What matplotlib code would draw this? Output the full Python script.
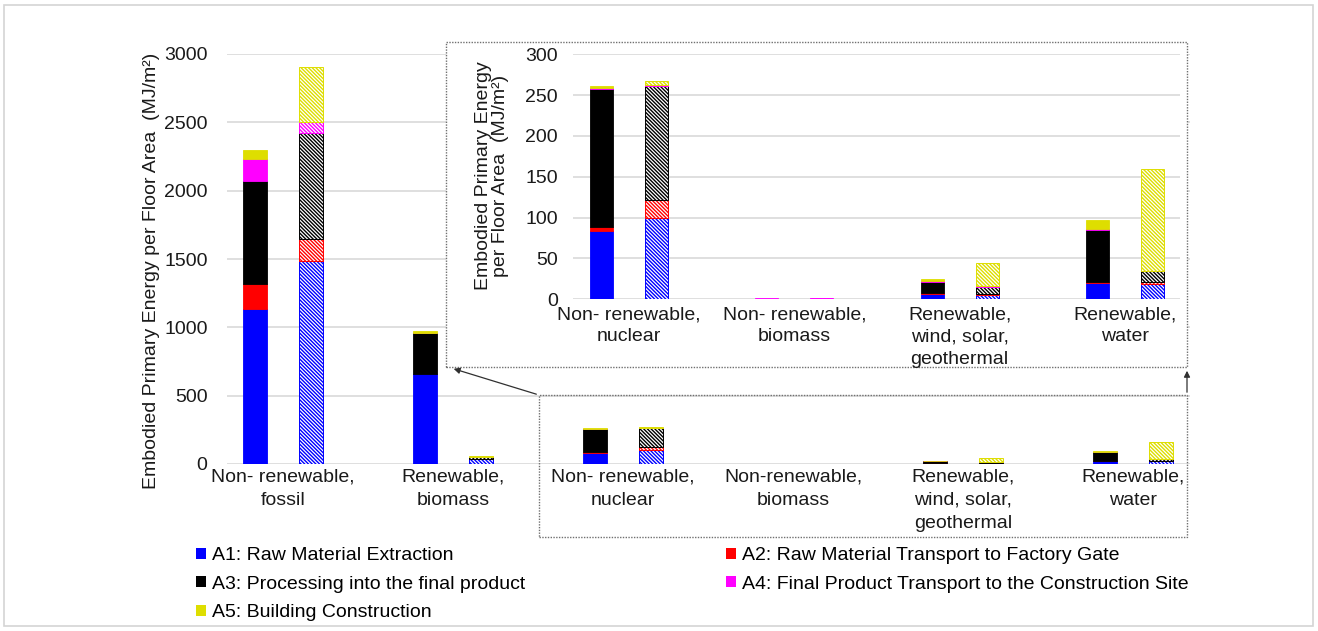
'''
Energia primaria incorporada por area de piso, por fuente de energia y etapa (A1-A5),
con un recuadro ampliado para las fuentes pequenas.
'''
# ---Imports---
import numpy as np
import matplotlib
matplotlib.use('Agg')
import matplotlib.pyplot as plt
from matplotlib.patches import Patch, Rectangle, FancyArrowPatch

# ---Datos---
categorias = ['Non- renewable,\nfossil', 'Renewable,\nbiomass', 'Non- renewable,\nnuclear',
              'Non-renewable,\nbiomass', 'Renewable,\nwind, solar,\ngeothermal', 'Renewable,\nwater']
categorias_zoom = ['Non- renewable,\nnuclear', 'Non- renewable,\nbiomass',
                   'Renewable,\nwind, solar,\ngeothermal', 'Renewable,\nwater']

etapas = ['A1: Raw Material Extraction', 'A2: Raw Material Transport to Factory Gate',
          'A3: Processing into the final product', 'A4: Final Product Transport to the Construction Site',
          'A5: Building Construction']
colores = ['#0000ff', '#ff0000', '#000000', '#ff00ff', '#dede00']

# barra solida (una fila por etapa, una columna por categoria)
solida = [
    [1135, 660, 84, 0.2, 7, 20],     # A1
    [185, 0, 5, 0, 0.5, 1],          # A2
    [750, 298, 168, 0.2, 14, 64],    # A3
    [160, 2, 2, 1.5, 0.5, 0.5],      # A4
    [70, 10, 2, 0, 3, 11],           # A5
]
# barra rayada
rayada = [
    [1484, 38, 99, 0.2, 5, 19],      # A1
    [165, 2, 22, 0, 1.5, 2.5],       # A2
    [770, 8, 140, 0.2, 9, 13],       # A3
    [80, 2, 1.5, 1.5, 0.5, 0.5],     # A4
    [405, 8, 5, 0, 29, 125],         # A5
]

# ---Estilo---
plt.rcParams['font.family'] = ['Liberation Sans', 'DejaVu Sans']
plt.rcParams['font.size'] = 14
plt.rcParams['hatch.linewidth'] = 1.0

W, H = 1318, 631

def px(x0, y0, x1, y1):
    '''Convierte una caja en pixeles (origen arriba-izquierda) a fraccion de figura.'''
    return [x0/W, (H-y1)/H, (x1-x0)/W, (y1-y0)/H]

def barras(ax, x, sol, ray, off, ancho):
    '''Dibuja las barras apiladas solida y rayada para cada categoria.'''
    base_s = np.zeros(len(x))
    base_r = np.zeros(len(x))
    for i in range(len(etapas)):
        vs = np.array(sol[i], dtype=float)
        vr = np.array(ray[i], dtype=float)
        # se omiten los tramos nulos para que no tapen a los demas
        ms = vs > 0
        mr = vr > 0
        ax.bar(x[ms] - off, vs[ms], ancho, bottom=base_s[ms], color=colores[i],
               edgecolor=colores[i], linewidth=0.6, zorder=3)
        ax.bar(x[mr] + off, vr[mr], ancho, bottom=base_r[mr], facecolor='white',
               edgecolor=colores[i], hatch='\\' * 9, linewidth=0.7, zorder=3)
        base_s += vs
        base_r += vr

def estilo(ax):
    for s in ax.spines.values():
        s.set_visible(False)
    ax.yaxis.grid(True, color='#d9d9d9', linewidth=1.2, zorder=0)
    ax.set_axisbelow(True)
    ax.tick_params(length=0, colors='#1a1a1a')

fig = plt.figure(figsize=(W/100, H/100), dpi=100)

# Marco exterior
fig.add_artist(Rectangle((4/W, 5/H), 1309/W, 621/H, transform=fig.transFigure,
                         fill=False, edgecolor='#d4d4d4', linewidth=1.2, zorder=0))

# ---Grafico principal---
ax = fig.add_axes(px(227, 54, 1190, 464))
x = np.arange(len(categorias))
barras(ax, x, solida, rayada, 0.167, 0.141)
estilo(ax)
ax.set_xlim(-0.329, 5.335)
ax.set_ylim(0, 3000)
ax.set_yticks(np.arange(0, 3001, 500))
ax.set_xticks(x)
ax.set_xticklabels(categorias, linespacing=1.5)
ax.tick_params(axis='y', pad=14)
ax.tick_params(axis='x', pad=3)
fig.text(152/W, 1-271/H, 'Embodied Primary Energy per Floor Area  (MJ/m²)',
         rotation=90, ha='center', va='center', color='#1a1a1a')

# ---Recuadro ampliado---
fig.add_artist(Rectangle((446/W, 1-367/H), 741/W, 325/H, transform=fig.transFigure,
                         facecolor='white', edgecolor='#707070', linewidth=1.0,
                         linestyle=(0, (1, 1)), zorder=1))
ax2 = fig.add_axes(px(573, 54.3, 1180, 299.3))
ax2.set_zorder(2)
ax2.patch.set_alpha(0)
x2 = np.arange(len(categorias_zoom))
barras(ax2, x2, [f[2:] for f in solida], [f[2:] for f in rayada], 0.166, 0.139)
estilo(ax2)
ax2.set_xlim(-0.339, 3.333)
ax2.set_ylim(0, 300)
ax2.set_yticks(np.arange(0, 301, 50))
ax2.set_xticks(x2)
ax2.set_xticklabels(categorias_zoom, linespacing=1.4)
ax2.tick_params(axis='y', pad=11)
ax2.tick_params(axis='x', pad=5)
fig.text(492/W, 1-176/H, 'Embodied Primary Energy\nper Floor Area  (MJ/m²)',
         rotation=90, ha='center', va='center', linespacing=1.0, zorder=3, color='#1a1a1a')

# Recuadro inferior y flechas
fig.add_artist(Rectangle((539/W, 1-537/H), 648/W, 142/H, transform=fig.transFigure,
                         fill=False, edgecolor='#707070', linewidth=1.0,
                         linestyle=(0, (1, 1)), zorder=3))
for a, b in [((539, 395), (451, 368)), ((1187, 395), (1187, 368))]:
    fig.add_artist(FancyArrowPatch((a[0]/W, 1-a[1]/H), (b[0]/W, 1-b[1]/H),
                                   transform=fig.transFigure, arrowstyle='-|>',
                                   mutation_scale=9, linewidth=0.9, color='#303030', zorder=3))

# ---Leyenda---
h = [Patch(facecolor=c, edgecolor='none') for c in colores]
kw = dict(frameon=False, handlelength=0.5, handleheight=0.5, handletextpad=0.3,
          labelspacing=0.6, borderpad=0, borderaxespad=0, loc='upper left')
fig.legend([h[0], h[2], h[4]], [etapas[0], etapas[2], etapas[4]],
           bbox_to_anchor=(196/W, 1-547/H), **kw)
fig.legend([h[1], h[3]], [etapas[1], etapas[3]],
           bbox_to_anchor=(726/W, 1-547/H), **kw)

fig.savefig('out.png', dpi=100)
